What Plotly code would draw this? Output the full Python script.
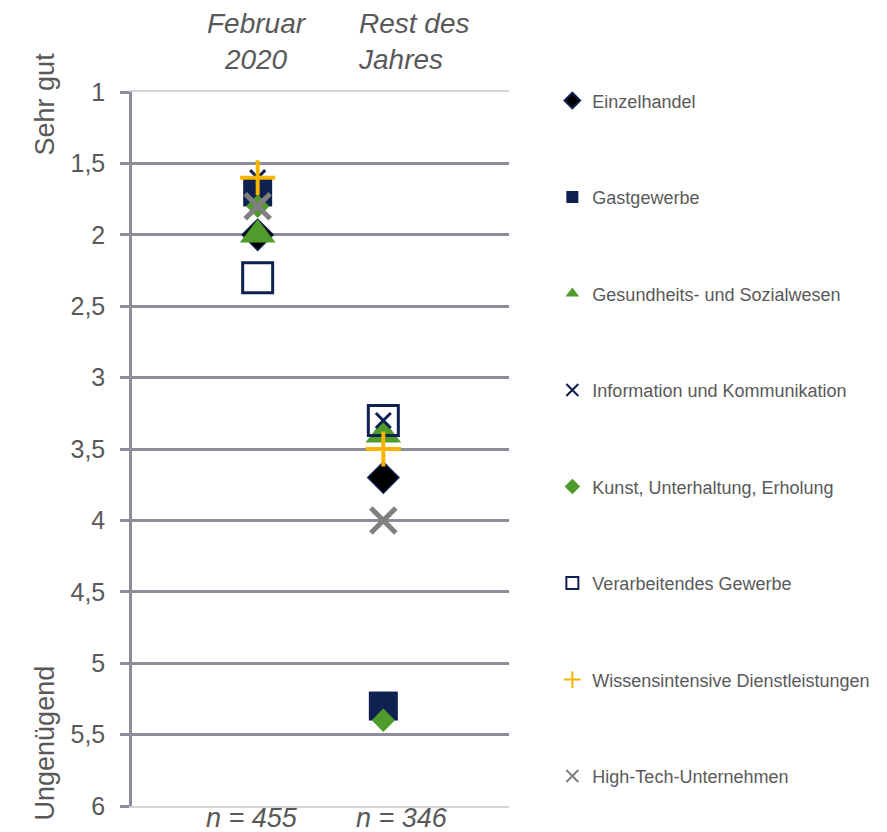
import plotly.graph_objects as go

# Zeitraum-Kategorien (x) und Fallzahlen
periods = ["Februar 2020", "Rest des Jahres"]
period_titles = ["Februar<br>2020", "Rest des<br>Jahres"]
sample_sizes = ["n = 455", "n = 346"]

# Branchen und ihre Durchschnittsnoten (1 = sehr gut, 6 = ungenügend)
sectors = [
    "Einzelhandel",
    "Gastgewerbe",
    "Gesundheits- und Sozialwesen",
    "Information und Kommunikation",
    "Kunst, Unterhaltung, Erholung",
    "Verarbeitendes Gewerbe",
    "Wissensintensive Dienstleistungen",
    "High-Tech-Unternehmen",
]
einzelhandel = [2.0, 3.7]
gastgewerbe = [1.7, 5.3]
gesundheit = [2.0, 3.4]
information = [1.6, 3.3]
kunst = [1.8, 5.4]
verarbeitend = [2.3, 3.3]
wissen = [1.6, 3.5]
hightech = [1.8, 4.0]
grades = [einzelhandel, gastgewerbe, gesundheit, information,
          kunst, verarbeitend, wissen, hightech]

# Notenskala
tick_values = [1, 1.5, 2, 2.5, 3, 3.5, 4, 4.5, 5, 5.5, 6]

NAVY = "#0f2150"
GREEN = "#4f9b2b"
GOLD = "#f4b400"
GREY = "#808080"
TEXT = "#595959"
GRID = "#8b8d98"

marker_styles = [
    dict(symbol="diamond", size=24, color="#000000", line=dict(color=NAVY, width=1.5)),
    dict(symbol="square", size=29, color=NAVY, line=dict(width=0)),
    dict(symbol="triangle-up", size=31, color=GREEN, line=dict(width=0)),
    dict(symbol="x-thin", size=15, color=NAVY, line=dict(color=NAVY, width=3)),
    dict(symbol="diamond", size=18, color=GREEN, line=dict(width=0)),
    dict(symbol="square-open", size=30, color=NAVY, line=dict(color=NAVY, width=3)),
    dict(symbol="cross-thin", size=25, color=GOLD, line=dict(color=GOLD, width=4)),
    dict(symbol="x-thin", size=25, color=GREY, line=dict(color=GREY, width=5)),
]

fig = go.Figure()
for i, (name, vals, mk) in enumerate(zip(sectors, grades, marker_styles)):
    fig.add_trace(go.Scatter(
        x=periods, y=vals, name=name, mode="markers",
        marker=mk, legendgroup=f"g{i}", cliponaxis=False,
    ))

font_family = "Liberation Sans, Arial, sans-serif"

annotations = []
# Zeitraum-Überschriften
annotations.append(dict(text=period_titles[0], x=0.3316, y=1.071, xref="paper", yref="paper",
                        xanchor="center", yanchor="middle", align="center", showarrow=False,
                        font=dict(size=28, color=TEXT, family=font_family, style="italic")))
annotations.append(dict(text=period_titles[1], x=0.5947, y=1.071, xref="paper", yref="paper",
                        xanchor="left", yanchor="middle", align="left", showarrow=False,
                        font=dict(size=28, color=TEXT, family=font_family, style="italic")))
# Fallzahlen unter der Achse
for xp, txt in zip([0.318, 0.716], sample_sizes):
    annotations.append(dict(text=txt, x=xp, y=-0.0168, xref="paper", yref="paper",
                            xanchor="center", yanchor="middle", showarrow=False,
                            font=dict(size=27, color=TEXT, family=font_family, style="italic")))
# Achsenbeschriftungen an den Enden der Skala
annotations.append(dict(text="Sehr gut", x=-0.23, y=0.983, xref="paper", yref="paper",
                        xanchor="center", yanchor="middle", textangle=-90, showarrow=False,
                        font=dict(size=27, color=TEXT, family=font_family)))
annotations.append(dict(text="Ungenügend", x=-0.23, y=0.088, xref="paper", yref="paper",
                        xanchor="center", yanchor="middle", textangle=-90, showarrow=False,
                        font=dict(size=27, color=TEXT, family=font_family)))

fig.update_layout(
    width=887, height=832,
    margin=dict(l=132, r=375, t=92, b=24),
    plot_bgcolor="white", paper_bgcolor="white",
    separators=",.",
    font=dict(family=font_family, color=TEXT),
    showlegend=True,
    legend=dict(
        x=1.115, y=1.0135, xanchor="left", yanchor="top",
        font=dict(size=18, color=TEXT, family=font_family),
        tracegroupgap=70.1, itemsizing="constant",
        bgcolor="rgba(0,0,0,0)", maxheight=1.0,
    ),
    annotations=annotations,
    xaxis=dict(
        type="category", categoryorder="array", categoryarray=periods,
        range=[-1, 2], showticklabels=False, ticks="", showgrid=False,
        zeroline=False, showline=True, mirror=True,
        linecolor="#d4d4d8", linewidth=1.5,
    ),
    yaxis=dict(
        range=[6, 1], tickmode="array", tickvals=tick_values,
        showgrid=True, gridcolor=GRID, gridwidth=2.5, zeroline=False,
        showline=True, linecolor=GRID, linewidth=2.5,
        ticks="outside", ticklen=9, tickwidth=2.5, tickcolor=GRID,
        tickfont=dict(size=25, color=TEXT, family=font_family),
        ticklabelstandoff=10,
    ),
)

fig.write_html("out.html")
